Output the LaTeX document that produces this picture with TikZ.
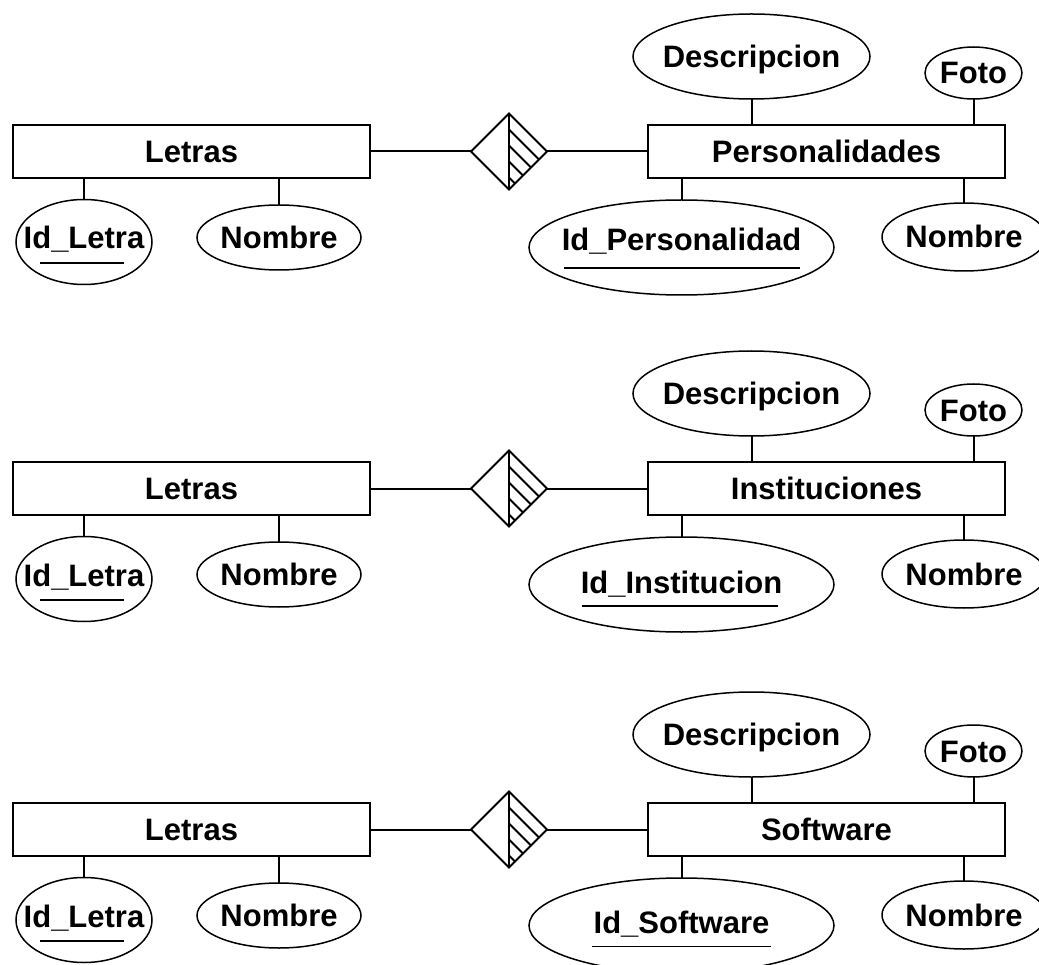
\documentclass[tikz,border=0pt]{standalone}
\usepackage{fontspec}
\setmainfont{Liberation Sans}
\usetikzlibrary{shapes.geometric,calc}

% label text that does not widen the shape around it
\newcommand\ertext[1]{\makebox[0pt]{#1}}
\newcommand\erfont{\fontsize{31}{36}\selectfont\bfseries}

\tikzset{
  entity/.style={draw, line width=2pt, minimum width=357pt, minimum height=53pt,
                 inner sep=0pt, font=\erfont, text height=22pt, text depth=0pt},
  attr/.style={draw, ellipse, line width=1.5pt, inner sep=0pt, outer sep=0pt,
               font=\erfont, text height=22pt, text depth=0pt},
  rel/.style={draw, diamond, aspect=1, line width=1.8pt, minimum width=76pt,
              minimum height=76pt, inner sep=0pt, outer sep=0pt},
  link/.style={line width=2pt},
  hatch/.style={line width=1.8pt},
  keyline/.style={line width=1.8pt},
}

\begin{document}
\begin{tikzpicture}[x=1pt, y=-1pt]
\path[use as bounding box, fill=white] (0,0) rectangle (1039,965);

\foreach \r/\dy/\ent/\idt/\idd/\ula/\ulb/\uly in {
  1/0/Personalidades/Id\_Personalidad/15/-117.5/118.5/20.5,
  2/337/Instituciones/Id\_Institucion/5/-99.5/96.5/21.5,
  3/678/Software/Id\_Software/6/-89.5/89.5/21}
{
\begin{scope}[yshift=-\dy pt]
  % left entity and its attributes
  \node[entity] (let\r) at (191.5,151.5) {Letras};
  \node[attr, minimum width=136pt, minimum height=85pt, text depth=8pt]
       (idl\r) at (84,242) {\ertext{Id\_Letra}};
  \node[attr, minimum width=164pt, minimum height=65pt]
       (noml\r) at (279,237.5) {\ertext{Nombre}};

  % relationship
  \node[rel] (rel\r) at (509,151.5) {};

  % right entity and its attributes
  \node[entity] (ent\r) at (826.5,151.5) {\ent};
  \node[attr, minimum width=237pt, minimum height=85pt]
       (des\r) at (751.5,56.5) {\ertext{Descripcion}};
  \node[attr, minimum width=97pt, minimum height=52pt]
       (fot\r) at (973.5,73) {\ertext{Foto}};
  \node[attr, minimum width=305pt, minimum height=95pt, text depth=\idd pt]
       (ide\r) at (681.5,247.5) {\ertext{\idt}};
  \node[attr, minimum width=164pt, minimum height=68pt]
       (nomr\r) at (964,237) {\ertext{Nombre}};

  % connectors
  \draw[link] (let\r.east) -- (rel\r.west);
  \draw[link] (rel\r.east) -- (ent\r.west);
  \draw[link] (idl\r.north) -- (idl\r.north |- let\r.south);
  \draw[link] (noml\r.north) -- (noml\r.north |- let\r.south);
  \draw[link] (des\r.south) -- (des\r.south |- ent\r.north);
  \draw[link] (fot\r.south) -- (fot\r.south |- ent\r.north);
  \draw[link] (ide\r.north) -- (ide\r.north |- ent\r.south);
  \draw[link] (nomr\r.north) -- (nomr\r.north |- ent\r.south);

  % weak relationship hatching
  \draw[hatch] (rel\r.north) -- (rel\r.south);
  \foreach \k in {1,2,3,4}
    \draw[hatch] ($(rel\r.north)+(0,16*\k)$) -- ($(rel\r.north)+({38-8*\k},{38+8*\k})$);

  % key underlines
  \draw[keyline] ($(idl\r.center)+(-44,21)$) -- ($(idl\r.center)+(40,21)$);
  \draw[keyline] ($(ide\r.center)+(\ula,\uly)$) -- ($(ide\r.center)+(\ulb,\uly)$);
\end{scope}
}
\end{tikzpicture}
\end{document}
